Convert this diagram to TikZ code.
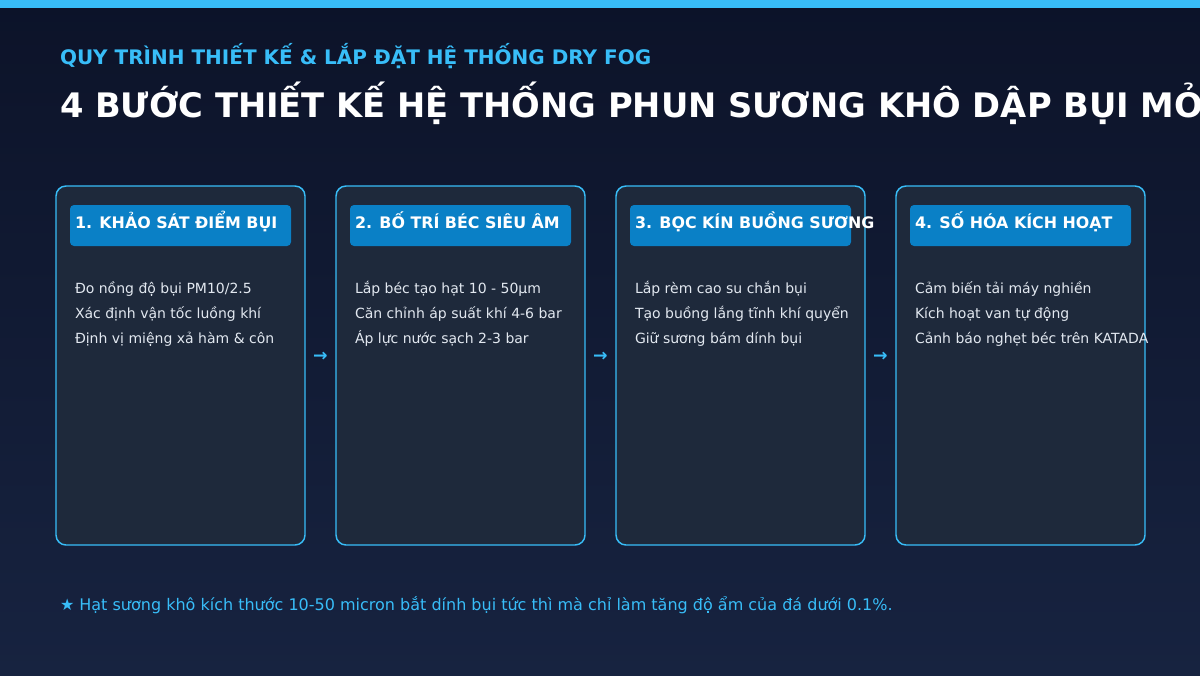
\documentclass[tikz,border=0pt]{standalone}
\usepackage{fontspec}
\setmainfont{DejaVu Sans}
\definecolor{bgtop}{HTML}{0C1329}
\definecolor{bgbot}{HTML}{172340}
\definecolor{sky}{HTML}{38BDF8}
\definecolor{cardfill}{HTML}{1E293B}
\definecolor{headfill}{HTML}{0A80C6}
\definecolor{bodytext}{HTML}{E2E8F0}

\begin{document}
\begin{tikzpicture}
[x=0.75pt,y=-0.75pt,%
  every node/.style={inner sep=0pt,outer sep=0pt},%
  card/.style={shape=rectangle,anchor=north west,draw=sky,line width=1.1pt,
    fill=cardfill,rounded corners=7.5pt,minimum width=186.75pt,minimum height=269.25pt},%
  headbox/.style={shape=rectangle,anchor=north west,fill=headfill,
    rounded corners=3pt,minimum width=165.75pt,minimum height=30.75pt},%
  headtext/.style={anchor=base west,text=white,font=\fontsize{11.9}{14}\selectfont\bfseries},%
  item/.style={anchor=base west,text=bodytext,font=\fontsize{10.5}{12}\selectfont},%
  nextstep/.style={text=sky,font=\fontsize{13}{15}\selectfont\bfseries}]
\useasboundingbox (0,0) rectangle (1200,675);
\clip (0,0) rectangle (1200,675);
\shade[top color=bgtop,bottom color=bgbot] (0,0) rectangle (1200,675);
\fill[sky] (0,0) rectangle (1200,8);
% heading
\node[anchor=base west,text=sky,font=\fontsize{15}{18}\selectfont\bfseries]
  (subtitle) at (60,64) {QUY TRÌNH THIẾT KẾ \& LẮP ĐẶT HỆ THỐNG DRY FOG};
\node[anchor=base west,text=white,font=\fontsize{25.3}{29}\selectfont\bfseries]
  (title) at (60,117) {4 BƯỚC THIẾT KẾ HỆ THỐNG PHUN SƯƠNG KHÔ DẬP BỤI MỎ};
% step 1
\node[card] (card1) at (56,186) {};
\node[headbox] (head1) at (70,205) {};
\node[headtext] (lab1) at (75,228) {1. KHẢO SÁT ĐIỂM BỤI};
\node[item] (s1a) at (75,293) {Đo nồng độ bụi PM10/2.5};
\node[item] (s1b) at (75,318) {Xác định vận tốc luồng khí};
\node[item] (s1c) at (75,343) {Định vị miệng xả hàm \& côn};
% step 2
\node[card] (card2) at (336,186) {};
\node[headbox] (head2) at (350,205) {};
\node[headtext] (lab2) at (355,228) {2. BỐ TRÍ BÉC SIÊU ÂM};
\node[item] (s2a) at (355,293) {Lắp béc tạo hạt 10 - 50µm};
\node[item] (s2b) at (355,318) {Căn chỉnh áp suất khí 4-6 bar};
\node[item] (s2c) at (355,343) {Áp lực nước sạch 2-3 bar};
% step 3
\node[card] (card3) at (616,186) {};
\node[headbox] (head3) at (630,205) {};
\node[headtext] (lab3) at (635,228) {3. BỌC KÍN BUỒNG SƯƠNG};
\node[item] (s3a) at (635,293) {Lắp rèm cao su chắn bụi};
\node[item] (s3b) at (635,318) {Tạo buồng lắng tĩnh khí quyển};
\node[item] (s3c) at (635,343) {Giữ sương bám dính bụi};
% step 4
\node[card] (card4) at (896,186) {};
\node[headbox] (head4) at (910,205) {};
\node[headtext] (lab4) at (915,228) {4. SỐ HÓA KÍCH HOẠT};
\node[item] (s4a) at (915,293) {Cảm biến tải máy nghiền};
\node[item] (s4b) at (915,318) {Kích hoạt van tự động};
\node[item] (s4c) at (915,343) {Cảnh báo nghẹt béc trên KATADA};
% arrows between steps
\node[nextstep] (go12) at (320.5,357) {→};
\node[nextstep] (go23) at (600.5,357) {→};
\node[nextstep] (go34) at (880.5,357) {→};
% note
\node[anchor=base west,text=sky,font=\fontsize{12}{14}\selectfont]
  (note) at (60,610) {★ Hạt sương khô kích thước 10-50 micron bắt dính bụi tức thì mà chỉ làm tăng độ ẩm của đá dưới 0.1\%.};
\end{tikzpicture}
\end{document}
